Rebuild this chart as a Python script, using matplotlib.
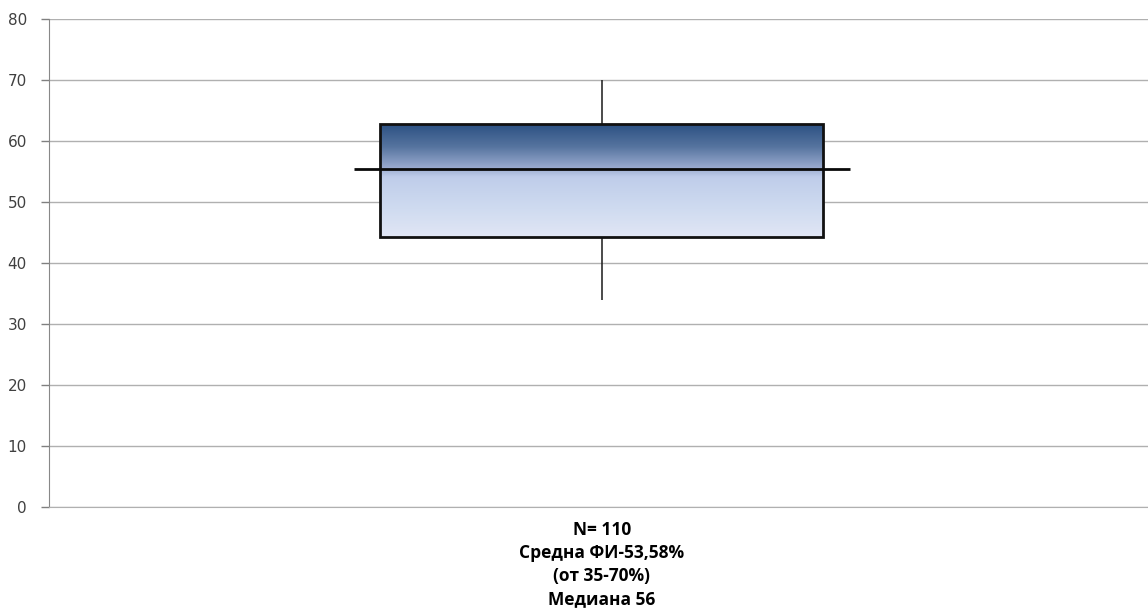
import numpy as np
import matplotlib.pyplot as plt
from matplotlib.colors import LinearSegmentedColormap
from matplotlib.patches import Rectangle

# five-number summary of the FI values
stat_min = 34.0
stat_q1 = 44.3
stat_median = 55.5
stat_q3 = 62.8
stat_max = 70.0

group_label = "N= 110\nСредна ФИ-53,58%\n(от 35-70%)\nМедиана 56"
y_ticks = [0, 10, 20, 30, 40, 50, 60, 70, 80]

fig = plt.figure(figsize=(11.48, 6.15), dpi=100)
ax = fig.add_axes([0.0427, 0.1751, 0.9573, 0.7935])

ax.set_xlim(0, 1)
ax.set_ylim(0, 80)
ax.set_yticks(y_ticks)
ax.set_yticklabels([str(t) for t in y_ticks], fontsize=11, color="#404040",
                   family="DejaVu Sans", fontstretch="normal")
ax.tick_params(axis="y", length=6, width=1, color="#808080", pad=10)
ax.yaxis.grid(True, color="#b0b0b0", linewidth=1)
ax.set_axisbelow(True)

for side in ("top", "right"):
    ax.spines[side].set_visible(False)
ax.spines["left"].set_color("#888888")
ax.spines["bottom"].set_color("#b0b0b0")

# single category in the middle
cx = 0.503
box_w = 0.403
med_w = 0.451
ax.set_xticks([cx])
ax.set_xticklabels([group_label], fontsize=12.5, fontweight="bold",
                   family="Open Sans", fontstretch="normal", linespacing=1.35)
ax.tick_params(axis="x", length=0, pad=10)

# whiskers
ax.vlines(cx, stat_q3, stat_max, color="#1a1a1a", linewidth=1.1, zorder=3)
ax.vlines(cx, stat_min, stat_q1, color="#1a1a1a", linewidth=1.1, zorder=3)

# gradient fill of the box, dark blue at the top fading to pale blue
cmap = LinearSegmentedColormap.from_list(
    "boxfill",
    [(0.0, "#2c5183"), (0.2, "#56749f"), (0.38, "#97a8cd"),
     (0.47, "#bfcdea"), (0.75, "#cfdbf0"), (1.0, "#e1e6f5")])
grad = np.linspace(0, 1, 256).reshape(-1, 1)
ax.imshow(grad, cmap=cmap, aspect="auto", interpolation="bicubic",
          extent=(cx - box_w / 2, cx + box_w / 2, stat_q1, stat_q3),
          origin="upper", zorder=4)
ax.add_patch(Rectangle((cx - box_w / 2, stat_q1), box_w, stat_q3 - stat_q1,
                       fill=False, edgecolor="#111111", linewidth=2, zorder=5))

# median
ax.hlines(stat_median, cx - med_w / 2, cx + med_w / 2, color="#0a0a0a",
          linewidth=2, zorder=6)

ax.set_xlim(0, 1)
ax.set_ylim(0, 80)

fig.savefig("out.png", dpi=100)
